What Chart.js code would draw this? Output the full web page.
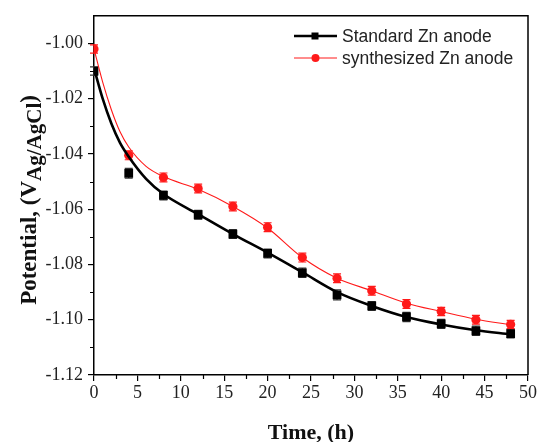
<!DOCTYPE html>
<html>
<head>
<meta charset="utf-8">
<script src="https://cdn.jsdelivr.net/npm/chart.js@4.4.0/dist/chart.umd.min.js"></script>
<style>
  html, body { margin: 0; padding: 0; background: #fff; }
</style>
</head>
<body>
<canvas id="chart" width="539" height="442"></canvas>
<script>
// measured points (h, V vs Ag/AgCl)
const timeH = [0, 4, 8, 12, 16, 20, 24, 28, 32, 36, 40, 44, 48];
const standardZn = [-1.010, -1.047, -1.055, -1.062, -1.069, -1.076, -1.083, -1.091, -1.095, -1.099, -1.1015, -1.104, -1.105];
const synthZn = [-1.002, -1.0405, -1.0485, -1.0525, -1.059, -1.0665, -1.0775, -1.085, -1.0895, -1.0943, -1.097, -1.100, -1.1017];
const standardErr = [0.0015, 0.0018, 0.0016, 0.0016, 0.0016, 0.0016, 0.0017, 0.0018, 0.0016, 0.0017, 0.0016, 0.0017, 0.0016];
const synthErr = [0.0015, 0.0016, 0.0016, 0.0016, 0.0016, 0.0016, 0.0016, 0.0016, 0.0016, 0.0016, 0.0015, 0.0016, 0.0015];

// fitted curves
const fitTime = [0, 1, 2, 3, 4, 6, 8, 12, 16, 20, 24, 28, 32, 36, 40, 44, 48];
const standardFit = [-1.009, -1.020, -1.029, -1.036, -1.041, -1.049, -1.0545, -1.0618, -1.069, -1.0757, -1.0828, -1.090, -1.095, -1.099, -1.1017, -1.1038, -1.1053];
const synthFit = [-1.002, -1.014, -1.024, -1.032, -1.0375, -1.0445, -1.0482, -1.0528, -1.059, -1.0668, -1.0775, -1.085, -1.0895, -1.094, -1.097, -1.0998, -1.1018];

const xTicks = [0, 5, 10, 15, 20, 25, 30, 35, 40, 45, 50];
const xMinor = [2.5, 7.5, 12.5, 17.5, 22.5, 27.5, 32.5, 37.5, 42.5, 47.5];
const yTicks = [-1.12, -1.10, -1.08, -1.06, -1.04, -1.02, -1.00];
const yMinor = [-1.11, -1.09, -1.07, -1.05, -1.03, -1.01];

const legendNames = ['Standard Zn anode', 'synthesized Zn anode'];

const serif = "'Liberation Serif', 'Times New Roman', serif";
const sans = "'Liberation Sans', Arial, sans-serif";

const pts = (xs, ys) => xs.map((x, i) => ({ x: x, y: ys[i] }));

// error bars + frame + minor ticks + legend + axis titles
const extras = {
  id: 'extras',
  beforeDatasetsDraw(chart) {
    const ctx = chart.ctx, xs = chart.scales.x, ys = chart.scales.y;
    const sets = [[standardZn, standardErr, '#333'], [synthZn, synthErr, '#ff1a1a']];
    ctx.save();
    ctx.lineWidth = 1.2;
    sets.forEach(([vals, errs, col]) => {
      ctx.strokeStyle = col;
      vals.forEach((v, i) => {
        const px = xs.getPixelForValue(timeH[i]);
        const top = ys.getPixelForValue(v + errs[i]);
        const bot = ys.getPixelForValue(v - errs[i]);
        ctx.beginPath();
        ctx.moveTo(px, top); ctx.lineTo(px, bot);
        ctx.moveTo(px - 4, top); ctx.lineTo(px + 4, top);
        ctx.moveTo(px - 4, bot); ctx.lineTo(px + 4, bot);
        ctx.stroke();
      });
    });
    ctx.restore();
  },
  afterDraw(chart) {
    const ctx = chart.ctx, a = chart.chartArea, xs = chart.scales.x, ys = chart.scales.y;
    ctx.save();
    // top and right frame
    ctx.strokeStyle = '#000';
    ctx.lineWidth = 1.5;
    ctx.beginPath();
    ctx.moveTo(a.left, a.top); ctx.lineTo(a.right, a.top); ctx.lineTo(a.right, a.bottom);
    ctx.stroke();
    // minor ticks
    ctx.lineWidth = 1.2;
    ctx.beginPath();
    xMinor.forEach(v => {
      const px = Math.round(xs.getPixelForValue(v)) + 0.5;
      ctx.moveTo(px, a.bottom); ctx.lineTo(px, a.bottom + 4);
    });
    yMinor.forEach(v => {
      const py = Math.round(ys.getPixelForValue(v)) + 0.5;
      ctx.moveTo(a.left, py); ctx.lineTo(a.left - 4, py);
    });
    ctx.stroke();

    // legend
    const rows = [[36, '#000', 2.5, 'rect'], [58, '#ff1a1a', 1, 'circle']];
    ctx.font = '17.5px ' + sans;
    ctx.textBaseline = 'middle';
    ctx.textAlign = 'left';
    rows.forEach(([y, col, lw, shape], i) => {
      ctx.strokeStyle = col;
      ctx.fillStyle = col;
      ctx.lineWidth = lw;
      ctx.beginPath();
      ctx.moveTo(294, y); ctx.lineTo(337, y);
      ctx.stroke();
      ctx.beginPath();
      if (shape === 'rect') ctx.rect(311.5, y - 3.5, 7, 7);
      else ctx.arc(315.5, y, 4, 0, Math.PI * 2);
      ctx.fill();
      ctx.fillStyle = '#222';
      ctx.fillText(legendNames[i], 342, y + 1);
    });

    // x title
    ctx.fillStyle = '#111';
    ctx.font = 'bold 22px ' + serif;
    ctx.textAlign = 'center';
    ctx.textBaseline = 'alphabetic';
    ctx.fillText('Time, (h)', (a.left + a.right) / 2, 439);

    // y title with subscript
    const main = 'Potential, (V', sub = 'Ag/AgCl', close = ')';
    const fMain = 'bold 23px ' + serif, fSub = 'bold 21px ' + serif;
    ctx.font = fMain;
    const w1 = ctx.measureText(main).width, w3 = ctx.measureText(close).width;
    ctx.font = fSub;
    const w2 = ctx.measureText(sub).width;
    const total = w1 + w2 + w3;
    ctx.translate(36, 200);
    ctx.rotate(-Math.PI / 2);
    ctx.textAlign = 'left';
    let x0 = -total / 2;
    ctx.font = fMain; ctx.fillText(main, x0, 0);
    ctx.font = fSub; ctx.fillText(sub, x0 + w1, 5);
    ctx.font = fMain; ctx.fillText(close, x0 + w1 + w2, 0);
    ctx.restore();
  }
};

new Chart(document.getElementById('chart'), {
  type: 'line',
  data: {
    datasets: [
      {
        data: pts(fitTime, standardFit),
        borderColor: '#000', borderWidth: 2.6,
        pointRadius: 0, cubicInterpolationMode: 'monotone', fill: false
      },
      {
        data: pts(fitTime, synthFit),
        borderColor: '#ff1a1a', borderWidth: 1.1,
        pointRadius: 0, cubicInterpolationMode: 'monotone', fill: false
      },
      {
        data: pts(timeH, standardZn), showLine: false,
        pointStyle: 'rect', pointRadius: 6.2,
        pointBackgroundColor: '#000', pointBorderColor: '#000', pointBorderWidth: 0
      },
      {
        data: pts(timeH, synthZn), showLine: false,
        pointStyle: 'circle', pointRadius: 4.6,
        pointBackgroundColor: '#ff1a1a', pointBorderColor: '#ff1a1a', pointBorderWidth: 0
      }
    ]
  },
  options: {
    responsive: false,
    devicePixelRatio: 1,
    animation: false,
    layout: { padding: { top: 12, right: 11, left: 0, bottom: 0 } },
    plugins: { legend: { display: false }, tooltip: { enabled: false } },
    scales: {
      x: {
        type: 'linear', min: 0, max: 50,
        afterBuildTicks: s => { s.ticks = xTicks.map(v => ({ value: v })); },
        afterFit: s => { s.height = 67; },
        ticks: { color: '#222', font: { family: serif, size: 18 }, padding: 1, maxRotation: 0 },
        grid: { drawOnChartArea: false, drawTicks: true, tickLength: 6, color: '#000', lineWidth: 1.2 },
        border: { display: true, color: '#000', width: 1.5 }
      },
      y: {
        type: 'linear', min: -1.12, max: -0.99,
        afterBuildTicks: s => { s.ticks = yTicks.map(v => ({ value: v })); },
        afterFit: s => { s.width = 94; },
        ticks: { color: '#222', font: { family: serif, size: 18 }, padding: 5, callback: v => v.toFixed(2) },
        grid: { drawOnChartArea: false, drawTicks: true, tickLength: 6, color: '#000', lineWidth: 1.2 },
        border: { display: true, color: '#000', width: 1.5 }
      }
    }
  },
  plugins: [extras]
});
</script>
</body>
</html>
